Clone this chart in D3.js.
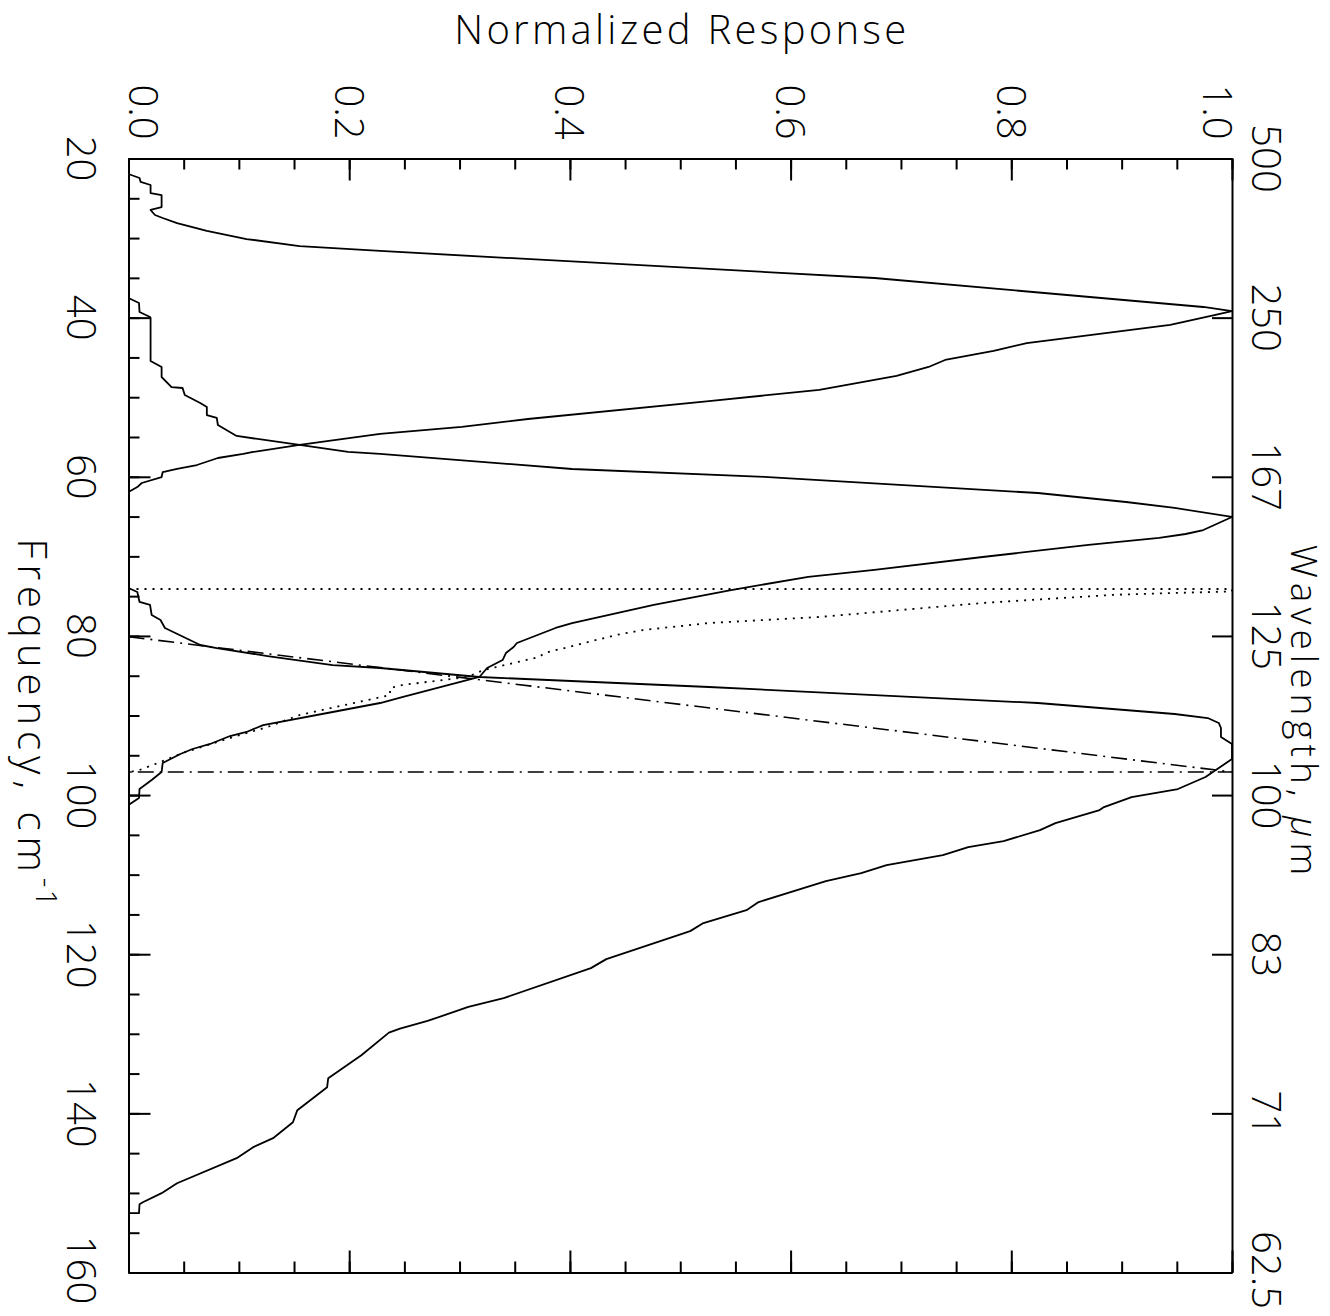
<!DOCTYPE html>
<html>
<head>
<meta charset="utf-8">
<script src="https://cdn.jsdelivr.net/npm/d3@7"></script>
<style>
  body { margin: 0; background: #fff; }
  svg text { font-family: "Open Sans", "Liberation Sans", sans-serif; font-weight: 300; fill: #000; }
</style>
</head>
<body>
<svg id="chart" width="1330" height="1316"></svg>
<script>
// response bands, [frequency cm^-1, normalized response]
const band1 = [[21.95,0],[22.45,0.010],[22.95,0.011],[23.33,0.020],[24.34,0.020],[24.59,0.030],[26.10,0.030],
  [26.47,0.020],[27.10,0.024],[27.48,0.031],[28.11,0.044],[29.11,0.071],[30.12,0.107],[31.00,0.155],[31.62,0.228],
  [35.02,0.676],[38.66,0.974],[39.17,1.0],[39.67,0.984],[40.92,0.944],[42.31,0.864],[43.19,0.814],[44.19,0.784],
  [45.32,0.740],[46.20,0.725],[47.33,0.696],[49.09,0.626],[50.48,0.526],[52.74,0.362],[53.74,0.302],[54.62,0.228],
  [56.00,0.155],[56.88,0.113],[57.13,0.104],[57.64,0.081],[58.52,0.062],[59.02,0.044],[59.40,0.031],[60.03,0.030],
  [60.78,0.012],[61.29,0.008],[61.91,0]];

const band2 = [[37.53,0],[38.16,0.0095],[39.29,0.010],[39.92,0.0195],[40.05,0.020],[45.45,0.020],[46.20,0.030],
  [47.46,0.030],[48.72,0.039],[48.84,0.049],[49.72,0.051],[50.73,0.065],[51.23,0.071],[52.24,0.071],[52.61,0.080],
  [53.49,0.081],[54.87,0.098],[56.00,0.155],[56.88,0.199],[57.13,0.228],[59.02,0.402],[60.00,0.576],[62.04,0.824],
  [63.17,0.904],[63.92,0.948],[65.05,1.0],[66.69,0.974],[67.19,0.958],[67.69,0.934],[68.57,0.870],[70.08,0.774],
  [71.71,0.676],[72.59,0.616],[74.23,0.546],[76.11,0.476],[78.38,0.402],[79.00,0.387],[80.89,0.352],[81.39,0.349],
  [82.15,0.342],[83.03,0.339],[84.03,0.325],[85.16,0.318],[87.68,0.248],[88.43,0.228],[89.56,0.185],[91.20,0.122],
  [92.07,0.107],[92.58,0.092],[93.58,0.074],[94.21,0.058],[94.84,0.047],[95.97,0.031],[97.10,0.030],[98.11,0.021],
  [99.24,0.010],[100.37,0.0095],[101.25,0]];

const band3 = [[73.97,0],[74.48,0.008],[75.73,0.010],[76.11,0.0195],[77.37,0.021],[78.00,0.029],[79.00,0.033],
  [81.14,0.065],[81.52,0.080],[82.53,0.126],[83.66,0.185],[84.03,0.228],[85.16,0.318],[86.42,0.526],[88.43,0.824],
  [89.81,0.948],[90.32,0.978],[90.94,0.988],[91.57,0.990],[92.70,0.990],[93.58,1.0],[95.47,1.0],[97.73,0.976],
  [99.24,0.951],[100.25,0.909],[101.51,0.884],[101.89,0.880],[103.52,0.840],[104.40,0.826],[105.78,0.793],
  [106.54,0.761],[107.54,0.738],[108.80,0.687],[109.81,0.664],[110.81,0.632],[113.45,0.571],[114.46,0.560],
  [116.09,0.521],[117.10,0.509],[120.62,0.433],[121.75,0.419],[125.52,0.340],[126.63,0.308],[128.39,0.271],
  [129.35,0.246],[129.85,0.236],[132.69,0.211],[135.58,0.181],[136.71,0.180],[139.60,0.153],[141.11,0.149],
  [143.12,0.131],[144.25,0.113],[145.63,0.098],[148.78,0.044],[150.03,0.030],[151.17,0.013],[151.42,0.010],
  [152.55,0.0095],[152.55,0]];

// model profiles
const modelDotted = [[74.10,0],[74.10,1.0],[74.40,1.0],[74.82,0.894],[75.86,0.774],[77.62,0.626],[78.38,0.526],
  [79.26,0.466],[79.88,0.442],[82.15,0.377],[82.65,0.372],[84.28,0.322],[85.16,0.307],[86.17,0.248],[86.55,0.237],
  [87.43,0.237],[89.94,0.155],[91.45,0.126],[92.70,0.095],[94.71,0.049],[95.84,0.029],[96.85,0.010],[97.10,0.001]];

const modelDashDot = [[80.10,0],[97.10,1.0],[97.10,0]];

const freqTicks = [20, 40, 60, 80, 100, 120, 140, 160];
const freqLabels = ["20", "40", "60", "80", "100", "120", "140", "160"];
const waveLabels = ["500", "250", "167", "125", "100", "83", "71", "62.5"];
const respTicks = [0, 0.2, 0.4, 0.6, 0.8, 1.0];
const respLabels = ["0.0", "0.2", "0.4", "0.6", "0.8", "1.0"];

const svg = d3.select("#chart");
const mLeft = 128.5, mRight = 1232, mTop = 158.5, mBottom = 1272.5;

const x = d3.scaleLinear().domain([0, 1]).range([mLeft, mRight]);
const y = d3.scaleLinear().domain([20, 160]).range([mTop, mBottom]);

const minorResp = d3.range(0, 1.0001, 0.05);
const minorFreq = d3.range(20, 160.001, 5);

function styleAxis(g) {
    g.selectAll("path, line").attr("stroke", "#000").attr("stroke-width", 2);
    g.selectAll("text").remove();
}

// frame + ticks
svg.append("g").attr("transform", `translate(0,${mTop})`)
    .call(d3.axisTop(x).tickValues(minorResp).tickSize(-11).tickSizeOuter(0).tickFormat("")).call(styleAxis);
svg.append("g").attr("transform", `translate(0,${mTop})`)
    .call(d3.axisTop(x).tickValues(respTicks).tickSize(-22).tickSizeOuter(0).tickFormat("")).call(styleAxis);
svg.append("g").attr("transform", `translate(0,${mBottom})`)
    .call(d3.axisBottom(x).tickValues(minorResp).tickSize(-11).tickSizeOuter(0).tickFormat("")).call(styleAxis);
svg.append("g").attr("transform", `translate(0,${mBottom})`)
    .call(d3.axisBottom(x).tickValues(respTicks).tickSize(-22).tickSizeOuter(0).tickFormat("")).call(styleAxis);
svg.append("g").attr("transform", `translate(${mLeft},0)`)
    .call(d3.axisLeft(y).tickValues(minorFreq).tickSize(-11).tickSizeOuter(0).tickFormat("")).call(styleAxis);
svg.append("g").attr("transform", `translate(${mLeft},0)`)
    .call(d3.axisLeft(y).tickValues(freqTicks).tickSize(-22).tickSizeOuter(0).tickFormat("")).call(styleAxis);
svg.append("g").attr("transform", `translate(${mRight},0)`)
    .call(d3.axisRight(y).tickValues(freqTicks).tickSize(-20).tickSizeOuter(0).tickFormat("")).call(styleAxis);

// curves
const line = d3.line().x(d => x(d[1])).y(d => y(d[0]));

[band1, band2, band3].forEach(b => {
    svg.append("path").datum(b).attr("d", line)
        .attr("fill", "none").attr("stroke", "#000").attr("stroke-width", 1.8)
        .attr("stroke-linejoin", "round");
});
svg.append("path").datum(modelDotted).attr("d", line)
    .attr("fill", "none").attr("stroke", "#000").attr("stroke-width", 1.8)
    .attr("stroke-dasharray", "2,6");
svg.append("path").datum(modelDashDot).attr("d", line)
    .attr("fill", "none").attr("stroke", "#000").attr("stroke-width", 1.6)
    .attr("stroke-dasharray", "16,6,2,6");

// labels (rotated, reading downwards)
const fs = 40;
svg.selectAll(".rlab").data(respTicks).enter().append("text")
    .attr("class", "rlab")
    .attr("transform", d => {
        const cx = Math.min(Math.max(x(d), mLeft + 14.5), mRight - 14.5);
        return `translate(${cx - 14.5},112) rotate(90)`;
    })
    .attr("text-anchor", "middle").attr("font-size", fs)
    .text((d, i) => respLabels[i]);

svg.selectAll(".flab").data(freqTicks).enter().append("text")
    .attr("class", "flab")
    .attr("transform", d => `translate(67,${Math.min(y(d), 1270)}) rotate(90)`)
    .attr("text-anchor", "middle").attr("font-size", fs)
    .text((d, i) => freqLabels[i]);

svg.selectAll(".wlab").data(freqTicks).enter().append("text")
    .attr("class", "wlab")
    .attr("transform", d => `translate(1252,${Math.min(y(d), 1270)}) rotate(90)`)
    .attr("text-anchor", "middle").attr("font-size", fs)
    .text((d, i) => waveLabels[i]);

// titles
svg.append("text")
    .attr("x", (mLeft + mRight) / 2).attr("y", 44)
    .attr("text-anchor", "middle").attr("font-size", fs)
    .attr("textLength", 452).attr("lengthAdjust", "spacing")
    .text("Normalized Response");

const ft = svg.append("text")
    .attr("transform", `translate(18,${(mTop + mBottom) / 2 + 8}) rotate(90)`)
    .attr("text-anchor", "middle").attr("font-size", fs)
    .attr("letter-spacing", 6);
ft.append("tspan").text("Frequency, cm");
ft.append("tspan").attr("dy", -18).attr("font-size", 30).attr("letter-spacing", 2).text("-1");

const wt = svg.append("text")
    .attr("transform", `translate(1291,${(mTop + mBottom) / 2 - 3}) rotate(90)`)
    .attr("text-anchor", "middle").attr("font-size", 37)
    .attr("letter-spacing", 5);
wt.append("tspan").text("Wavelength, ");
wt.append("tspan").attr("font-style", "italic").text("μ");
wt.append("tspan").text("m");
</script>
</body>
</html>
